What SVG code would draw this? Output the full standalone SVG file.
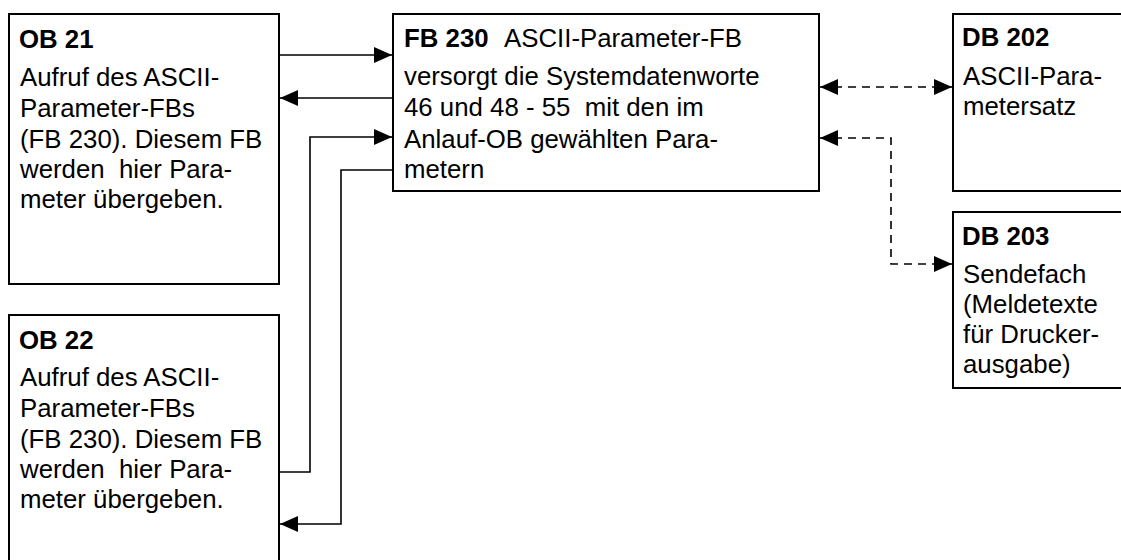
<svg xmlns="http://www.w3.org/2000/svg" width="1121" height="560" viewBox="0 0 1121 560">
<style>
  .box { fill: #fff; stroke: #000; stroke-width: 2; }
  .t { font-family: "Liberation Sans", Arial, sans-serif; font-size: 25.8px; fill: #000; white-space: pre; }
  .b { font-weight: bold; }
  .c { fill: none; stroke: #000; stroke-width: 1.6; }
  .d { fill: none; stroke: #000; stroke-width: 1.6; stroke-dasharray: 8 6; }
</style>
<defs>
  <marker id="ah" markerUnits="userSpaceOnUse" markerWidth="19" markerHeight="17" refX="18" refY="8" orient="auto-start-reverse">
    <path d="M0,0 L18,8 L0,16 z" fill="#000"/>
  </marker>
</defs>
<rect width="1121" height="560" fill="#fff"/>

<g id="ob21">
  <rect class="box" x="9" y="14" width="270" height="270"/>
  <text class="t b" x="19" y="48">OB 21</text>
  <text class="t" x="20" y="86">Aufruf des ASCII-</text>
  <text class="t" x="20" y="117">Parameter-FBs</text>
  <text class="t" x="20" y="148">(FB 230). Diesem FB</text>
  <text class="t" x="20" y="178">werden  hier Para-</text>
  <text class="t" x="20" y="208">meter übergeben.</text>
</g>

<g id="ob22">
  <rect class="box" x="9" y="315" width="270" height="260"/>
  <text class="t b" x="19" y="349">OB 22</text>
  <text class="t" x="20" y="386">Aufruf des ASCII-</text>
  <text class="t" x="20" y="417">Parameter-FBs</text>
  <text class="t" x="20" y="448">(FB 230). Diesem FB</text>
  <text class="t" x="20" y="478">werden  hier Para-</text>
  <text class="t" x="20" y="508">meter übergeben.</text>
</g>

<g id="fb230">
  <rect class="box" x="393" y="14" width="426" height="177"/>
  <text class="t" x="404" y="47"><tspan class="b">FB 230</tspan><tspan x="504">ASCII-Parameter-FB</tspan></text>
  <text class="t" x="404" y="85">versorgt die Systemdatenworte</text>
  <text class="t" x="404" y="116">46 und 48 - 55  mit den im</text>
  <text class="t" x="404" y="148">Anlauf-OB gewählten Para-</text>
  <text class="t" x="404" y="178">metern</text>
</g>

<g id="db202">
  <rect class="box" x="953" y="14" width="180" height="177"/>
  <text class="t b" x="962" y="46">DB 202</text>
  <text class="t" x="963" y="85">ASCII-Para-</text>
  <text class="t" x="963" y="115">metersatz</text>
</g>

<g id="db203">
  <rect class="box" x="953" y="212" width="180" height="176"/>
  <text class="t b" x="962" y="245">DB 203</text>
  <text class="t" x="963" y="283">Sendefach</text>
  <text class="t" x="963" y="313">(Meldetexte</text>
  <text class="t" x="963" y="343">für Drucker-</text>
  <text class="t" x="963" y="373">ausgabe)</text>
</g>

<g id="connectors">
  <path class="c" d="M280,55 H392" marker-end="url(#ah)"/>
  <path class="c" d="M392,98 H280" marker-end="url(#ah)"/>
  <path class="c" d="M280,472 H310 V137 H392" marker-end="url(#ah)"/>
  <path class="c" d="M392,170 H341 V524 H280" marker-end="url(#ah)"/>
  <path class="d" d="M820,87 H952" marker-start="url(#ah)" marker-end="url(#ah)"/>
  <path class="d" d="M820,138 H891 V264 H952" marker-start="url(#ah)" marker-end="url(#ah)"/>
</g>
</svg>
